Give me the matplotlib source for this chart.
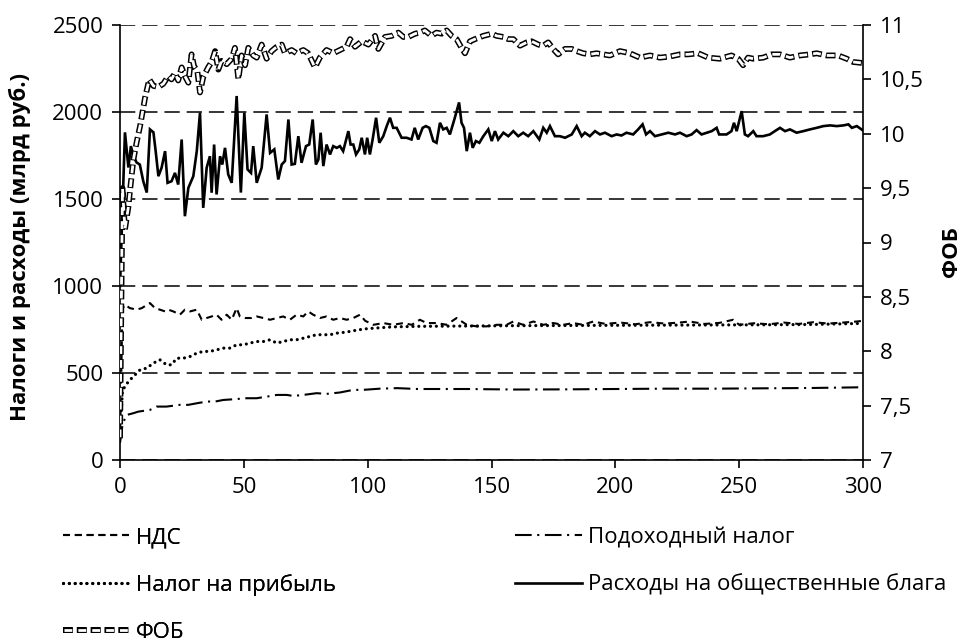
import matplotlib
matplotlib.use('Agg')
import matplotlib.pyplot as plt

plt.rcParams['font.family'] = ['Open Sans', 'DejaVu Sans']
plt.rcParams['lines.scale_dashes'] = False

# ---------------- data ----------------
exp_x = [0, 2, 3.4, 4.4, 5.4, 6.7, 8, 9.4, 10.8, 12.1, 13.5, 14.4, 15.5, 16.8, 18.2, 19.2, 20.8, 22.2, 23.5,
         24.9, 26.2, 27.6, 29.6, 31, 32.3, 33.6, 35, 36.3, 37, 38, 39, 40.4, 41.3, 42.4, 43.7, 45.1, 47.1, 48.8,
         50.2, 51.5, 52.9, 53.8, 55.2, 57.2, 59.2, 60.6, 62.3, 63.9, 65.3, 66.6, 68, 69.3, 70.6, 72, 73.3, 75.1,
         76.4, 77.8, 79.1, 80.1, 81, 82.1, 83.4, 84.8, 86.1, 87.5, 88.8, 90.1, 92.2, 93.1, 94.2, 95.3, 96.6, 97.6,
         98.9, 99.8, 100.9, 102, 103.4, 104.7, 106.3, 107.7, 109, 110.3, 111.7, 113.7, 115.7, 117.7, 119, 120.4,
         122.2, 123.5, 124.9, 126.5, 127.8, 129.2, 130.5, 131.9, 133.2, 135.2, 136.9, 137.9, 138.9, 140, 141.3,
         142.4, 143.7, 145.1, 146.7, 148.7, 150.1, 151.4, 152.7, 154.8, 156.8, 158.8, 160.8, 162.8, 164.8, 166.9,
         169.3, 170.9, 172.3, 173.6, 175.6, 177.6, 179.7, 182.4, 184.4, 186.4, 187.7, 189.7, 191.8, 193.8, 195.8,
         198.5, 200.5, 202.5, 204.5, 207.2, 209.2, 211, 212.4, 214, 216, 218.7, 221.4, 224.1, 226.1, 228.8, 230.8,
         232.8, 234.8, 236.9, 238.9, 240.9, 241.9, 244.9, 246.9, 247.9, 249, 251, 252.3, 253.6, 255.7, 257, 259.7,
         262.4, 264.4, 266.5, 268.5, 270.5, 273.2, 275.9, 278.6, 281.3, 284, 286.7, 289.4, 292.1, 294.1, 295.5,
         297.5, 300]
exp_y = [1000, 1883, 1681, 1804, 1746, 1710, 1698, 1602, 1537, 1900, 1883, 1775, 1631, 1680, 1775, 1593, 1602, 1650,
         1583, 1842, 1401, 1564, 1631, 1775, 1996, 1449, 1680, 1746, 1536, 1813, 1526, 1746, 1698, 1794, 1641, 1593,
         2092, 1537, 1996, 1670, 1650, 1804, 1593, 1680, 1986, 1765, 1785, 1612, 1698, 1718, 1957, 1698, 1702, 1861,
         1708, 1804, 1813, 1957, 1698, 1727, 1881, 1689, 1813, 1756, 1804, 1794, 1804, 1775, 1890, 1813, 1813, 1756,
         1785, 1852, 1756, 1852, 1756, 1842, 1967, 1823, 1861, 1919, 1967, 1909, 1909, 1852, 1852, 1842, 1909, 1842,
         1909, 1919, 1909, 1833, 1823, 1938, 1900, 1909, 1871, 1967, 2055, 1938, 1909, 1775, 1881, 1794, 1833, 1823,
         1861, 1900, 1833, 1890, 1842, 1881, 1861, 1890, 1861, 1881, 1861, 1890, 1842, 1909, 1881, 1919, 1861, 1861,
         1852, 1871, 1919, 1861, 1881, 1861, 1890, 1871, 1881, 1861, 1871, 1865, 1881, 1871, 1900, 1929, 1871, 1890,
         1861, 1871, 1881, 1871, 1881, 1861, 1871, 1896, 1871, 1881, 1890, 1909, 1871, 1871, 1890, 1938, 1890, 2005,
         1871, 1861, 1890, 1861, 1861, 1871, 1890, 1909, 1890, 1900, 1881, 1890, 1900, 1909, 1919, 1923, 1919, 1923,
         1929, 1909, 1919, 1894]

fob_x = [0, 1, 2, 3.4, 4, 5.4, 6.7, 8.1, 9.1, 10.1, 11.8, 13.5, 15.5, 17.5, 19.5, 20.8, 22.2, 23.5, 24.9, 26.2, 27.6,
         28.9, 29.9, 31.2, 32.3, 33.6, 35.6, 37, 38.4, 39.7, 41, 43.1, 45.1, 46.4, 47.8, 49.1, 50.5, 51.8, 53.8, 55.2,
         57.2, 59.2, 61.2, 63.3, 65.3, 66.6, 69.3, 71.3, 74, 76, 78.7, 80.7, 83.4, 86.1, 88.8, 91.5, 92.9, 94.9, 97.6,
         100.3, 103, 104.3, 107, 109.7, 112.4, 114.4, 116.4, 119.1, 121.1, 123.1, 125.8, 127.8, 129.9, 131.9, 133.9,
         135.9, 137.9, 139.3, 141.3, 143.3, 146.7, 150.1, 152.1, 154.8, 156.8, 158.8, 161.5, 164.2, 166.2, 168.9,
         170.9, 172.9, 174.9, 176.9, 179.7, 182.4, 184.4, 187, 189.7, 192.4, 197.8, 201.9, 205.9, 209.9, 214, 218,
         222, 226.1, 229.4, 233.5, 237.5, 242.2, 246.9, 249.6, 251.6, 253.6, 255.7, 259.7, 263.1, 266.5, 270.5,
         274.5, 278.6, 281.3, 285.3, 290, 293.4, 296, 300]
fob_y = [7.2, 9.5, 9.12, 9.33, 9.47, 9.76, 9.92, 10.07, 10.20, 10.33, 10.50, 10.44, 10.43, 10.46, 10.53, 10.50, 10.56,
         10.49, 10.61, 10.53, 10.47, 10.73, 10.62, 10.58, 10.38, 10.52, 10.61, 10.66, 10.76, 10.59, 10.67, 10.64,
         10.69, 10.79, 10.50, 10.72, 10.63, 10.79, 10.72, 10.70, 10.82, 10.69, 10.76, 10.80, 10.82, 10.74, 10.77,
         10.74, 10.77, 10.74, 10.61, 10.70, 10.77, 10.74, 10.77, 10.80, 10.87, 10.80, 10.85, 10.82, 10.90, 10.78,
         10.89, 10.90, 10.93, 10.89, 10.89, 10.92, 10.93, 10.95, 10.90, 10.93, 10.92, 10.95, 10.90, 10.87, 10.79,
         10.74, 10.85, 10.87, 10.90, 10.92, 10.90, 10.89, 10.87, 10.87, 10.81, 10.84, 10.85, 10.82, 10.81, 10.84,
         10.78, 10.73, 10.78, 10.78, 10.76, 10.74, 10.73, 10.74, 10.72, 10.76, 10.74, 10.70, 10.72, 10.70, 10.71,
         10.73, 10.73, 10.74, 10.70, 10.69, 10.72, 10.69, 10.63, 10.70, 10.69, 10.70, 10.73, 10.73, 10.70, 10.72,
         10.73, 10.74, 10.72, 10.72, 10.69, 10.66, 10.65]

vat_x = [0, 1, 2, 4, 6.7, 8.8, 12.1, 14.1, 16.1, 18.2, 19.5, 21.5, 24.2, 26.2, 28.3, 31, 33, 35, 37, 39, 41, 43.1,
         45.1, 47.1, 48.4, 50.5, 53.2, 55.2, 57.9, 60.6, 63.3, 65.9, 68.6, 71.3, 74, 76, 78, 80.7, 83.4, 86.1, 88.8,
         91.5, 94.2, 96.9, 99, 102.3, 106.3, 110.3, 114.4, 117.8, 121.1, 123.8, 127.8, 131.9, 135.9, 140, 144, 148,
         152.1, 156.1, 158.8, 162.8, 166.9, 170.9, 174.9, 179, 183, 187, 191.1, 196, 202, 208, 214, 220, 226, 230,
         236, 242, 247.6, 250, 256, 262, 268, 274, 280, 286, 292, 297.5, 300]
vat_y = [100, 870, 892, 873, 864, 873, 902, 873, 864, 854, 864, 854, 835, 864, 854, 864, 806, 816, 825, 835, 806, 835,
         806, 873, 825, 816, 816, 825, 816, 806, 816, 825, 806, 835, 825, 854, 835, 816, 825, 806, 816, 806, 816,
         835, 800, 777, 787, 777, 787, 777, 806, 787, 787, 777, 816, 777, 768, 768, 777, 777, 796, 777, 796, 777,
         787, 777, 787, 777, 796, 782, 790, 780, 792, 784, 790, 796, 782, 788, 806, 777, 786, 780, 790, 782, 792,
         784, 790, 796, 800]

profit_x = [0, 1, 2, 3.4, 5.4, 8.1, 10.8, 13.5, 16.1, 18.8, 20.8, 22.9, 25.6, 28.3, 31, 33.6, 36.3, 39, 41.7, 44.4,
            47.1, 49.8, 52.5, 55.2, 57.9, 60.6, 63.3, 65.9, 68.6, 71.3, 74, 76.7, 79.4, 82.1, 84.8, 87.5, 90.1, 92.9,
            96.2, 100, 105, 110, 120, 140, 160, 180, 200, 220, 240, 260, 280, 300]
profit_y = [150, 400, 422, 451, 480, 518, 528, 557, 576, 547, 547, 585, 585, 595, 614, 624, 624, 633, 643, 643, 662,
            662, 672, 681, 681, 691, 672, 681, 691, 691, 700, 710, 720, 720, 720, 729, 733, 739, 748, 755, 760, 765,
            768, 770, 772, 773, 774, 775, 776, 777, 779, 785]

income_x = [0, 1, 2, 2.7, 5.4, 7.4, 12.1, 14.8, 18.8, 24.2, 27.6, 31, 35, 38.4, 41.7, 45.7, 51.1, 55.2, 59.2, 63.3,
            67.3, 70, 74, 79.4, 83.4, 88.8, 94.2, 98, 105, 112, 120, 140, 160, 180, 200, 220, 240, 260, 280, 300]
income_y = [100, 200, 240, 259, 269, 278, 288, 307, 307, 317, 317, 326, 336, 336, 345, 349, 355, 355, 364, 374, 374,
            368, 374, 384, 380, 388, 403, 403, 410, 413, 408, 408, 405, 406, 408, 410, 410, 412, 414, 418]

x_ticks = [0, 50, 100, 150, 200, 250, 300]
left_ticks = [0, 500, 1000, 1500, 2000, 2500]
right_ticks = [7, 7.5, 8, 8.5, 9, 9.5, 10, 10.5, 11]

labels = {
    'vat': 'НДС',
    'income': 'Подоходный налог',
    'profit': 'Налог на прибыль',
    'exp': 'Расходы на общественные блага',
    'fob': 'ФОБ',
}

# ---------------- figure ----------------
W, H = 967, 643
fig = plt.figure(figsize=(W / 100, H / 100), dpi=100)
ax = fig.add_axes([120 / W, 1 - 460 / H, (863 - 120) / W, (460 - 25) / H])
ax2 = ax.twinx()

FS = 16
ax.set_xlim(0, 300)
ax.set_ylim(0, 2500)
ax2.set_ylim(7, 11)
ax.set_xticks(x_ticks)
ax.set_yticks(left_ticks)
ax2.set_yticks(right_ticks)
ax2.set_yticklabels([('%g' % v).replace('.', ',') for v in right_ticks])

ax.grid(axis='y', color='black', lw=1.1, linestyle=(0, (11, 5)))
ax.set_axisbelow(True)

for a in (ax, ax2):
    a.spines['top'].set_visible(False)
    for s in a.spines.values():
        s.set_linewidth(1.2)
ax.spines['right'].set_visible(False)
ax2.spines['left'].set_visible(False)
ax2.spines['bottom'].set_visible(False)

ax.tick_params(axis='both', direction='out', length=6, width=1.2, labelsize=FS, pad=6)
ax2.tick_params(axis='y', direction='out', length=6, width=1.2, labelsize=FS, pad=6)

l_vat, = ax.plot(vat_x, vat_y, color='black', lw=1.5, linestyle=(0, (5, 3.5)))
l_income, = ax.plot(income_x, income_y, color='black', lw=1.5, linestyle=(0, (12, 4, 1.5, 4)))
l_profit, = ax.plot(profit_x, profit_y, color='black', lw=2.3, linestyle=(0, (0.01, 4.2)),
                    dash_capstyle='round')
l_exp, = ax.plot(exp_x, exp_y, color='black', lw=1.9, solid_joinstyle='miter')

fob_b, = ax2.plot(fob_x, fob_y, color='black', lw=4.2, linestyle=(0, (7, 3)), dash_capstyle='butt',
                  dash_joinstyle='round')
fob_w, = ax2.plot(fob_x, fob_y, color='white', lw=2.0, linestyle=(9.3, (5.6, 4.4)), dash_capstyle='butt',
                  dash_joinstyle='round')

fig.text(20 / W, 1 - 247 / H, 'Налоги и расходы (млрд руб.)', rotation=90, ha='center', va='center',
         fontsize=FS, fontweight='bold')
fig.text(951 / W, 1 - 252 / H, 'ФОБ', rotation=90, ha='center', va='center', fontsize=FS, fontweight='bold')

leg_kw = dict(loc='upper left', frameon=False, fontsize=FS, handlelength=3.0, handletextpad=0.3,
              labelspacing=1.17, borderpad=0, borderaxespad=0)
leg1 = fig.legend([l_vat, l_profit, (fob_b, fob_w)], [labels['vat'], labels['profit'], labels['fob']],
                  bbox_to_anchor=(63 / W, 1 - 527 / H), **leg_kw)
fig.add_artist(leg1)
leg2 = fig.legend([l_income, l_exp], [labels['income'], labels['exp']],
                  bbox_to_anchor=(515 / W, 1 - 527 / H), **leg_kw)

fig.savefig('out.png', dpi=100)
